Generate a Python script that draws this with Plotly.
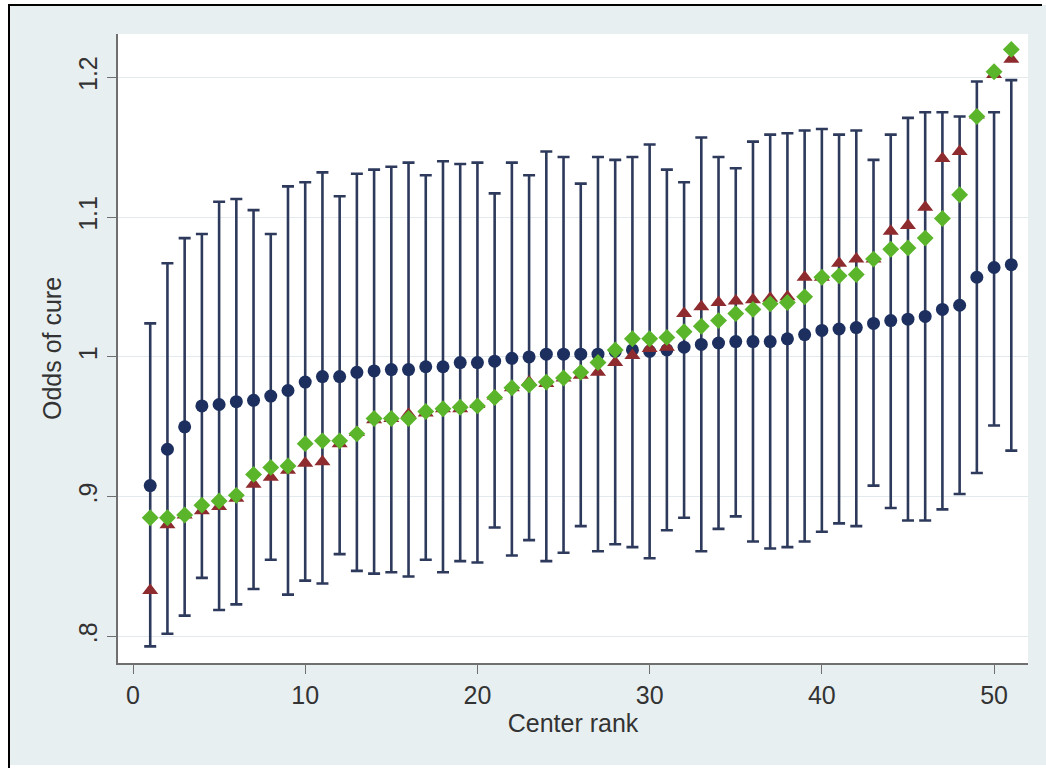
import plotly.graph_objects as go

# Centre-level odds of cure: point estimate with 95% interval, plus two comparison estimates
rank = list(range(1, 52))

estimate = [0.908, 0.934, 0.950, 0.965, 0.966, 0.968, 0.969, 0.972, 0.976, 0.982,
            0.986, 0.986, 0.989, 0.990, 0.991, 0.991, 0.993, 0.993, 0.996, 0.996,
            0.997, 0.999, 1.000, 1.002, 1.002, 1.002, 1.002, 1.004, 1.005, 1.004,
            1.005, 1.007, 1.009, 1.010, 1.011, 1.011, 1.011, 1.013, 1.016, 1.019,
            1.020, 1.021, 1.024, 1.026, 1.027, 1.029, 1.034, 1.037, 1.057, 1.064,
            1.066]

ci_upper = [1.024, 1.067, 1.085, 1.088, 1.111, 1.113, 1.105, 1.088, 1.122, 1.125,
            1.132, 1.115, 1.131, 1.134, 1.136, 1.139, 1.130, 1.140, 1.138, 1.139,
            1.117, 1.139, 1.130, 1.147, 1.143, 1.124, 1.143, 1.141, 1.143, 1.152,
            1.134, 1.125, 1.157, 1.143, 1.135, 1.154, 1.159, 1.160, 1.162, 1.163,
            1.159, 1.162, 1.141, 1.159, 1.171, 1.175, 1.175, 1.172, 1.197, 1.175,
            1.198]

ci_lower = [0.793, 0.802, 0.815, 0.842, 0.819, 0.823, 0.834, 0.855, 0.830, 0.840,
            0.838, 0.859, 0.847, 0.845, 0.846, 0.843, 0.855, 0.846, 0.854, 0.853,
            0.878, 0.858, 0.869, 0.854, 0.860, 0.879, 0.861, 0.866, 0.864, 0.856,
            0.876, 0.885, 0.861, 0.877, 0.886, 0.868, 0.863, 0.864, 0.868, 0.875,
            0.881, 0.879, 0.908, 0.892, 0.883, 0.883, 0.891, 0.902, 0.917, 0.951,
            0.933]

triangle_est = [0.833, 0.880, 0.887, 0.890, 0.893, 0.899, 0.909, 0.914, 0.919, 0.924,
                0.925, 0.938, 0.946, 0.955, 0.956, 0.959, 0.960, 0.963, 0.963, 0.966,
                0.972, 0.978, 0.982, 0.981, 0.985, 0.987, 0.989, 0.996, 1.001, 1.006,
                1.007, 1.031, 1.036, 1.039, 1.040, 1.041, 1.042, 1.043, 1.057, 1.057,
                1.067, 1.070, 1.070, 1.090, 1.094, 1.107, 1.142, 1.147, 1.173, 1.202,
                1.213]

diamond_est = [0.885, 0.885, 0.887, 0.894, 0.897, 0.901, 0.916, 0.921, 0.922, 0.938,
               0.940, 0.940, 0.945, 0.956, 0.956, 0.956, 0.961, 0.963, 0.964, 0.965,
               0.971, 0.978, 0.980, 0.982, 0.985, 0.989, 0.996, 1.005, 1.013, 1.013,
               1.014, 1.018, 1.022, 1.026, 1.031, 1.034, 1.038, 1.039, 1.043, 1.057,
               1.058, 1.059, 1.070, 1.077, 1.078, 1.085, 1.099, 1.116, 1.172, 1.204,
               1.220]

y_ticks = [0.8, 0.9, 1.0, 1.1, 1.2]
y_tick_text = [".8", ".9", "1", "1.1", "1.2"]
x_ticks = [0, 10, 20, 30, 40, 50]

NAVY = "#1c2f5e"
BAR = "#2e3a5c"
MAROON = "#8e2b2f"
GREEN = "#5bb52a"
BG = "#e8eff1"
FONT = "Liberation Sans, Arial, sans-serif"

W, H = 1046, 770
ML, MR, MT, MB = 118, 18, 34, 107
pw, ph = W - ML - MR, H - MT - MB


def px(x):
    return (x - ML) / pw


def py(y):
    return (H - MB - y) / ph


fig = go.Figure()

fig.add_trace(go.Scatter(
    x=rank, y=estimate, mode="markers",
    marker=dict(symbol="circle", size=13, color=NAVY),
    error_y=dict(type="data", symmetric=False,
                 array=[u - e for u, e in zip(ci_upper, estimate)],
                 arrayminus=[e - l for e, l in zip(estimate, ci_lower)],
                 color=BAR, thickness=2.6, width=6),
    showlegend=False, hoverinfo="skip"))

fig.add_trace(go.Scatter(
    x=rank, y=triangle_est, mode="markers",
    marker=dict(symbol="triangle-up", size=14, color=MAROON),
    showlegend=False, hoverinfo="skip"))

fig.add_trace(go.Scatter(
    x=rank, y=diamond_est, mode="markers",
    marker=dict(symbol="diamond", size=13, color=GREEN),
    showlegend=False, hoverinfo="skip"))

# outer graph region, white plot region on top of it, and the frame edges
fig.add_shape(type="rect", xref="paper", yref="paper", layer="below",
              x0=px(9), x1=px(W), y0=py(765), y1=py(5),
              fillcolor=BG, line=dict(width=0))
fig.add_shape(type="rect", xref="paper", yref="paper", layer="below",
              x0=0, x1=1, y0=0, y1=1,
              fillcolor="white", line=dict(width=0))
fig.add_shape(type="line", xref="paper", yref="paper",
              x0=px(9), x1=px(9), y0=py(768), y1=py(4),
              line=dict(color="black", width=2))
fig.add_shape(type="line", xref="paper", yref="paper",
              x0=px(8), x1=px(1042), y0=py(5), y1=py(5),
              line=dict(color="black", width=2))

fig.update_layout(
    width=W, height=H,
    margin=dict(l=ML, r=MR, t=MT, b=MB, pad=0),
    paper_bgcolor="white", plot_bgcolor="white",
    font=dict(family=FONT, size=25, color="#333333"),
    xaxis=dict(range=[-0.871, 51.97], tickvals=x_ticks, showgrid=False,
               zeroline=False, showline=True, linecolor="#6f6f6f", linewidth=1.5,
               ticks="outside", ticklen=9, tickcolor="#6f6f6f", tickwidth=1.2,
               tickfont=dict(size=25, color="#333333"),
               title=dict(text="Center rank", standoff=0,
                          font=dict(size=25, color="#333333"))),
    yaxis=dict(range=[0.7811, 1.2310], tickvals=y_ticks, ticktext=y_tick_text,
               tickangle=-90, showgrid=True, gridcolor="#e3eaed", gridwidth=1.2,
               zeroline=False, showline=True, linecolor="#6f6f6f", linewidth=1.5,
               ticks="outside", ticklen=9, tickcolor="#6f6f6f", tickwidth=1.2,
               tickfont=dict(size=25, color="#333333"),
               title=dict(text="Odds of cure", standoff=6,
                          font=dict(size=25, color="#333333"))),
)

fig.write_html("out.html")
